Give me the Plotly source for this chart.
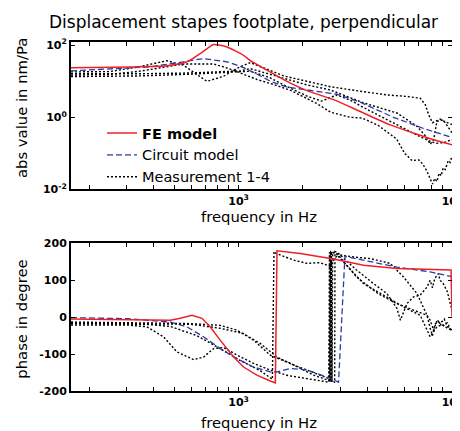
import plotly.graph_objects as go

# ---------------- data ----------------
# Magnitude, FE model
fe_mag_f = [164, 321, 461, 573, 661, 720, 764, 820, 883, 960, 1055, 1135, 1359, 1626, 2090, 2786, 3715, 5130, 6860, 8500, 10000]
fe_mag = [23.7, 25.1, 26.9, 34.7, 58.9, 85.1, 104.7, 100.0, 89.1, 70.8, 52.5, 37.2, 20.4, 11.1, 5.50, 3.09, 1.45, 0.617, 0.339, 0.224, 0.174]

# Magnitude, circuit model
cm_mag_f = [164, 385, 551, 685, 883, 1055, 1200, 1410, 1686, 2090, 2500, 2890, 3715, 5320, 7365, 10000]
cm_mag = [19.5, 25.1, 34.7, 42.7, 34.7, 24.0, 16.6, 10.0, 6.92, 5.75, 5.01, 4.37, 2.63, 1.0, 0.490, 0.275]

# Magnitude, measurements 1-4
m1_mag_f = [164, 250, 346, 461, 550, 638, 711, 851, 1000, 1135, 1300, 1626, 2090, 2690, 3855, 5000, 6150, 7100, 7500, 7780, 8100, 8500, 8800, 9100, 10000]
m1_mag = [18.2, 18.6, 25.7, 37.2, 28.2, 15.1, 10.0, 13.8, 24.0, 33.1, 24.0, 14.1, 10.0, 7.08, 5.13, 4.17, 3.80, 3.39, 2.24, 1.17, 0.708, 0.794, 0.891, 0.794, 0.631]

m2_mag_f = [164, 250, 346, 450, 552, 764, 883, 1020, 1220, 1460, 1750, 2330, 2700, 3340, 3800, 4500, 5500, 6000, 6500, 7000, 7300, 7640, 7900, 8100, 8300, 8500, 8700, 8900, 9100, 9300, 9600, 9800, 10000]
m2_mag = [14.8, 15.5, 19.1, 25.1, 30.2, 30.2, 23.4, 17.0, 11.2, 8.13, 5.62, 2.40, 1.38, 1.0, 0.955, 0.603, 0.251, 0.100, 0.0631, 0.0661, 0.0501, 0.0316, 0.0200, 0.0141, 0.0200, 0.0166, 0.0282, 0.0240, 0.0398, 0.0355, 0.0631, 0.0562, 0.0851]

m3_mag_f = [164, 346, 600, 800, 1000, 1135, 1400, 1626, 2090, 2450, 2890, 3400, 4000, 5000, 6000, 7000, 7600, 8000, 8500, 9200, 10000]
m3_mag = [13.5, 14.1, 15.8, 17.4, 19.1, 19.1, 12.6, 7.94, 3.89, 2.82, 4.17, 2.82, 1.66, 0.832, 0.468, 0.302, 0.240, 0.209, 0.191, 0.200, 0.240]

m4_mag_f = [164, 346, 594, 1020, 1135, 1300, 1626, 2090, 2690, 3855, 5520, 6860, 7640, 7900, 8200, 8500, 9100, 10000]
m4_mag = [16.2, 16.2, 17.0, 19.5, 22.4, 17.8, 12.0, 7.94, 5.75, 2.51, 1.32, 0.562, 0.269, 0.178, 0.240, 0.776, 0.851, 0.372]

# Phase, FE model
fe_ph_f = [164, 300, 479, 533, 605, 674, 736, 820, 948, 1055, 1218, 1408, 1487, 1514, 1945, 2786, 3855, 5520, 7900, 9900, 10000]
fe_ph = [-5, -6, -8, -3, 5, -3, -26, -62, -108, -135, -157, -173, -178, 180, 173, 158, 141, 132, 129, 128, 2]

# Phase, circuit model
cm_ph_f = [164, 300, 479, 573, 685, 820, 983, 1175, 1408, 1514, 1750, 2090, 2594, 2940, 3150, 3855, 5520, 7900, 10000]
cm_ph = [-1, -4, -13, -26, -53, -85, -112, -135, -148, -148, -139, -143, -162, -176, 165, 155, 136, 123, 110]

# Phase, measurements 1-4
m1_ph_f = [164, 400, 573, 820, 983, 1175, 1408, 1750, 2246, 2600, 2650, 2665, 2680, 2695, 2710, 2725, 2740, 2760, 2780, 2900, 3500, 4140, 5130, 5930, 6860, 7365, 7640, 7900, 8100, 8300, 8600, 9000, 9500, 10000]
m1_ph = [-13, -15, -17, -22, -35, -62, -103, -125, -157, -170, -172, 176, -174, 177, -175, 178, -176, 176, 175, 170, 163, 159, 146, 109, 64, 28, 5, -30, -50, -20, -10, -25, -15, -40]

m2_ph_f = [164, 400, 600, 820, 1050, 1264, 1514, 1750, 2246, 2690, 2800, 2810, 2820, 2830, 2900, 3570, 4290, 4960, 5520, 5730, 6150, 6600, 7100, 7640, 7900, 8100, 8300, 8630, 8800, 9100, 9500, 9800, 10000]
m2_ph = [-17, -17, -19, -30, -44, -71, -108, -126, -150, -168, -175, 177, -177, 178, 176, 128, 91, 64, 24, -8, 37, 55, 60, 82, 100, 80, 105, 118, 100, 91, 70, 37, 19]

m3_ph_f = [164, 385, 479, 638, 820, 1000, 1264, 1440, 1465, 1500, 1810, 2090, 2410, 2690, 2750, 2900, 3855, 4960, 5930, 7100, 7900, 8500, 9000, 9500, 10000]
m3_ph = [-15, -20, -25, -50, -85, -115, -145, -168, 178, 173, 155, 146, 148, 138, 150, 168, 91, 55, 28, 5, -53, -26, -20, -30, -35]

m4_ph_f = [164, 300, 372, 445, 514, 616, 685, 764, 850, 1000, 1175, 1400, 1700, 2000, 2400, 2650, 2700, 2900, 3570, 4500, 5520, 6600, 7640, 7900, 8200, 8500, 8800, 9200, 9500, 10000]
m4_ph = [-21, -21, -26, -53, -94, -115, -108, -85, -82, -105, -125, -143, -158, -165, -172, -176, 178, 172, 109, 64, 37, 19, 5, -8, -35, -10, -17, -5, -25, -35]

x_tickvals = [200, 300, 400, 500, 600, 700, 800, 900, 1000, 2000, 3000, 4000, 5000, 6000, 7000, 8000, 9000, 10000]
x_ticktext = ["" if v not in (1000, 10000) else ("<b>10<sup>3</sup></b>" if v == 1000 else "<b>10<sup>4</sup></b>") for v in x_tickvals]
mag_tickvals = [0.01, 1, 100]
mag_ticktext = ["<b>10<sup>-2</sup></b>", "<b>10<sup>0</sup></b>", "<b>10<sup>2</sup></b>"]
ph_tickvals = [-200, -100, 0, 100, 200]
ph_ticktext = ["<b>-200</b>", "<b>-100</b>", "<b>0</b>", "<b>100</b>", "<b>200</b>"]

# ---------------- styles ----------------
RED = "rgb(238,32,38)"
BLUE = "rgb(40,58,170)"
BLACK = "black"
FONT = "DejaVu Sans"

fig = go.Figure()

meas_mag = [(m1_mag_f, m1_mag), (m2_mag_f, m2_mag), (m3_mag_f, m3_mag), (m4_mag_f, m4_mag)]
meas_ph = [(m1_ph_f, m1_ph), (m2_ph_f, m2_ph), (m3_ph_f, m3_ph), (m4_ph_f, m4_ph)]

for i, (f, v) in enumerate(meas_mag):
    fig.add_trace(go.Scatter(x=f, y=v, mode="lines", xaxis="x", yaxis="y",
                             line=dict(color=BLACK, width=1.4, dash="2px,2px"),
                             name="Measurement 1-4", legendgroup="meas", legendrank=3,
                             showlegend=(i == 0)))
for f, v in meas_ph:
    fig.add_trace(go.Scatter(x=f, y=v, mode="lines", xaxis="x2", yaxis="y2",
                             line=dict(color=BLACK, width=1.4, dash="2px,2px"),
                             legendgroup="meas", showlegend=False))

fig.add_trace(go.Scatter(x=cm_mag_f, y=cm_mag, mode="lines", xaxis="x", yaxis="y",
                         line=dict(color=BLUE, width=1.3, dash="6px,3px"),
                         name="Circuit model", legendgroup="cm", legendrank=2))
fig.add_trace(go.Scatter(x=cm_ph_f, y=cm_ph, mode="lines", xaxis="x2", yaxis="y2",
                         line=dict(color=BLUE, width=1.3, dash="6px,3px"),
                         legendgroup="cm", showlegend=False))
fig.add_trace(go.Scatter(x=fe_mag_f, y=fe_mag, mode="lines", xaxis="x", yaxis="y",
                         line=dict(color=RED, width=1.5, shape="spline", smoothing=0.6),
                         name="<b>FE model</b>", legendgroup="fe", legendrank=1))
fig.add_trace(go.Scatter(x=fe_ph_f, y=fe_ph, mode="lines", xaxis="x2", yaxis="y2",
                         line=dict(color=RED, width=1.5),
                         legendgroup="fe", showlegend=False))

# The page body has an 8px margin, so the figure is drawn offset by 8px.
OFF = 8
W, H = 460 - OFF, 431 - OFF
L = 71 - OFF
T = 42 - OFF
R = W - (451.7 - OFF)
B = H - (390.7 - OFF)
PW = W - L - R
PH = H - T - B


def xp(px_ref):
    return ((px_ref - OFF) - L) / PW


def yp(py_ref):
    return (H - B - (py_ref - OFF)) / PH


axis_common = dict(showline=True, linecolor="black", linewidth=2, mirror="ticks",
                   ticks="inside", ticklen=4, tickwidth=1, tickcolor="black",
                   showgrid=False, zeroline=False, automargin=False,
                   ticklabeloverflow="allow",
                   tickfont=dict(family=FONT, size=11, color="black"))

fig.update_layout(
    width=W, height=H,
    margin=dict(l=L, r=R, t=T, b=B, autoexpand=False),
    paper_bgcolor="white", plot_bgcolor="white",
    font=dict(family=FONT, color="black"),
    xaxis=dict(type="log", range=[2.2148, 4], domain=[0, 1], anchor="y",
               tickvals=x_tickvals, ticktext=x_ticktext, **axis_common),
    yaxis=dict(type="log", range=[-2, 2.09], domain=[yp(189.3), 1], anchor="x",
               tickvals=mag_tickvals, ticktext=mag_ticktext, **axis_common),
    xaxis2=dict(type="log", range=[2.2148, 4], domain=[0, 1], anchor="y2",
                tickvals=x_tickvals, ticktext=x_ticktext, **axis_common),
    yaxis2=dict(range=[-200, 200], domain=[0, yp(243.3)], anchor="x2",
                tickvals=ph_tickvals, ticktext=ph_ticktext, **axis_common),
    showlegend=True,
    legend=dict(x=xp(102), y=yp(117), xanchor="left", yanchor="top",
                bgcolor="rgba(0,0,0,0)", borderwidth=0,
                font=dict(family=FONT, size=14.5, color="black"),
                traceorder="grouped", tracegroupgap=0),
)

annots = [
    dict(text="Displacement stapes footplate, perpendicular", x=xp(243), y=yp(21.7), font=dict(size=17)),
    dict(text="frequency in Hz", x=xp(259), y=yp(216), font=dict(size=14.8)),
    dict(text="frequency in Hz", x=xp(259), y=yp(422), font=dict(size=14.8)),
    dict(text="abs value in nm/Pa", x=xp(21), y=yp(108), textangle=-90, font=dict(size=14.8)),
    dict(text="phase in degree", x=xp(21.5), y=yp(319), textangle=-90, font=dict(size=14.8)),
]
for a in annots:
    a.update(xref="paper", yref="paper", showarrow=False, xanchor="center", yanchor="middle")
    a["font"].update(family=FONT, color="black")
fig.update_layout(annotations=annots)

fig.write_html("out.html")
